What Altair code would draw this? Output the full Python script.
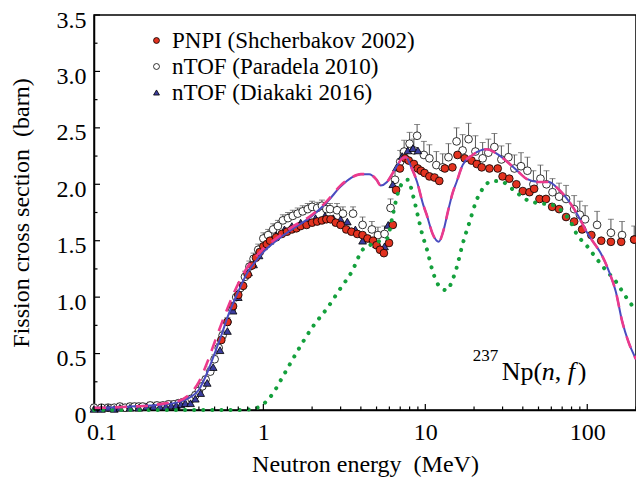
import altair as alt
import pandas as pd

# ---------------- data ----------------
# evaluation (solid blue)
eval_blue_E = [0.09, 0.1, 0.15, 0.2, 0.25, 0.3, 0.35, 0.4, 0.45, 0.5, 0.55, 0.6, 0.7, 0.8, 0.9, 1.0, 1.2, 1.5, 2.0, 2.5,
               3.0, 3.5, 4.0, 4.5, 5.0, 5.3, 5.8, 6.3, 6.8, 7.2, 7.6, 8.2, 8.9, 9.7, 10.2, 11.1, 12.1, 13.0, 13.8, 14.8,
               15.6, 17, 19.6, 24, 27, 32, 37, 42, 50, 58, 65, 77, 88, 99, 110, 120, 136, 150, 164, 180, 200]
eval_blue_v = [0.02, 0.02, 0.03, 0.04, 0.05, 0.07, 0.11, 0.18, 0.33, 0.5, 0.66, 0.82, 1.05, 1.22, 1.32, 1.4, 1.5, 1.6, 1.72, 1.85,
               1.98, 2.06, 2.09, 2.09, 2.04, 1.99, 2.02, 2.1, 2.18, 2.23, 2.24, 2.15, 2.02, 1.82, 1.73, 1.56, 1.49, 1.6, 1.76, 1.93,
               2.02, 2.17, 2.26, 2.31, 2.28, 2.2, 2.12, 2.05, 2.02, 2.02, 1.97, 1.85, 1.72, 1.58, 1.48, 1.4, 1.23, 1.05, 0.79, 0.6, 0.45]
# evaluation (dashed magenta)
eval_mag_E = [0.09, 0.1, 0.15, 0.2, 0.25, 0.3, 0.35, 0.4, 0.45, 0.5, 0.55, 0.6, 0.7, 0.8, 0.9, 1.0, 1.2, 1.5, 2.0, 2.5,
              3.0, 3.5, 4.0, 4.5, 5.0, 5.3, 5.8, 6.3, 6.8, 7.2, 7.6, 8.2, 8.9, 9.7, 10.2, 11.1, 12.1, 13.0, 13.8, 14.8,
              15.6, 17, 19.6, 24, 27, 32, 37, 42, 50, 58, 65, 77, 88, 99, 110, 120, 136, 150, 164, 180, 200]
eval_mag_v = [0.02, 0.02, 0.03, 0.04, 0.06, 0.08, 0.14, 0.25, 0.42, 0.6, 0.76, 0.9, 1.12, 1.27, 1.36, 1.43, 1.52, 1.62, 1.73, 1.86,
              1.99, 2.06, 2.09, 2.09, 2.04, 1.99, 2.02, 2.1, 2.18, 2.23, 2.24, 2.15, 2.02, 1.82, 1.73, 1.56, 1.49, 1.6, 1.76, 1.93,
              2.02, 2.17, 2.26, 2.31, 2.28, 2.2, 2.12, 2.05, 2.02, 2.02, 1.97, 1.85, 1.72, 1.58, 1.48, 1.4, 1.23, 1.05, 0.79, 0.6, 0.45]
# model (green dotted)
green_E = [0.09, 0.2, 0.4, 0.6, 0.75, 0.85, 0.95, 1.05, 1.15, 1.3, 1.45, 1.7, 2.0, 2.5, 3.0, 3.5, 4.1, 4.7, 5.3, 5.8,
           6.3, 6.8, 7.3, 7.8, 8.4, 9.0, 9.6, 10.2, 11, 11.7, 12.5, 13.6, 14.6, 15.6, 17, 18.8, 20.6, 22.6, 26, 30,
           35, 44, 52, 60, 70, 78, 86, 100, 113, 130, 150, 170, 200]
green_v = [0, 0, 0, 0, 0.0, 0.01, 0.03, 0.08, 0.15, 0.28, 0.4, 0.57, 0.73, 0.91, 1.08, 1.22, 1.42, 1.47, 1.5, 1.52,
           1.73, 1.93, 2.02, 2.04, 1.9, 1.72, 1.55, 1.43, 1.25, 1.14, 1.08, 1.06, 1.14, 1.26, 1.47, 1.67, 1.85, 1.96, 2.03, 2.02,
           1.95, 1.85, 1.83, 1.82, 1.76, 1.68, 1.56, 1.45, 1.35, 1.24, 1.14, 1.02, 0.88]

# PNPI (Shcherbakov 2002)
pnpi_E = [0.55, 0.6, 0.65, 0.7, 0.75, 0.8, 0.85, 0.9, 0.95, 1.0, 1.05, 1.1, 1.2, 1.3, 1.4, 1.5, 1.6, 1.7, 1.85, 2.0,
          2.15, 2.3, 2.45, 2.6, 2.8, 3.0, 3.25, 3.5, 3.8, 4.1, 4.4, 4.76, 5.0, 5.25, 5.55, 5.97, 6.3, 6.6, 6.97, 7.5,
          7.9, 8.5, 8.98, 9.4, 9.9, 10.6, 11.4, 12.2, 13.2, 14.7, 15.8, 17.5, 19.3, 20.8, 22.3, 24.9, 28, 30, 33, 36.5,
          40, 44, 47, 50.7, 55.6, 60.7, 67, 74, 83, 93, 106, 122, 140, 162, 195]
pnpi_v = [0.62, 0.78, 0.92, 1.02, 1.1, 1.2, 1.28, 1.35, 1.4, 1.45, 1.47, 1.5, 1.53, 1.56, 1.58, 1.6, 1.61, 1.63, 1.64, 1.66,
          1.67, 1.68, 1.69, 1.69, 1.66, 1.64, 1.6, 1.58, 1.56, 1.55, 1.52, 1.5, 1.46, 1.42, 1.39, 1.48, 1.64, 1.95, 2.14, 2.23,
          2.21, 2.18, 2.14, 2.12, 2.1, 2.07, 2.06, 2.03, 2.14, 2.15, 2.26, 2.23, 2.21, 2.18, 2.15, 2.14, 2.14, 2.07, 2.05, 2.0,
          1.94, 1.93, 1.96, 1.87, 1.87, 1.8, 1.78, 1.71, 1.67, 1.6, 1.55, 1.5, 1.49, 1.49, 1.51]

# nTOF (Paradela 2010)
par_E = [0.09, 0.1, 0.11, 0.12, 0.13, 0.14, 0.15, 0.16, 0.17, 0.18, 0.2, 0.22, 0.24, 0.26, 0.28, 0.3, 0.32, 0.34, 0.36, 0.38,
         0.4, 0.42, 0.44, 0.47, 0.5, 0.53, 0.56, 0.6, 0.64, 0.68, 0.72, 0.77, 0.82, 0.87, 0.93, 1.0, 1.07, 1.15, 1.23, 1.32,
         1.42, 1.52, 1.63, 1.75, 1.88, 2.0, 2.15, 2.3, 2.45, 2.58, 2.85, 3.1, 3.58, 4.1, 4.68, 5.1, 5.6, 6.1, 6.5, 7.0,
         7.4, 8.0, 8.5, 8.9, 9.8, 10.6, 11.7, 12.8, 13.9, 15.6, 17, 18.5, 20.4, 22.6, 24.5, 26.7, 29.5, 32.6, 35.5, 39,
         42.7, 46.5, 51.4, 56, 61, 67, 74, 83, 90, 97, 115, 140, 164, 195]
par_v = [0.02, 0.02, 0.02, 0.02, 0.03, 0.02, 0.03, 0.03, 0.03, 0.03, 0.04, 0.04, 0.04, 0.05, 0.05, 0.06, 0.07, 0.08, 0.1, 0.13,
         0.17, 0.21, 0.27, 0.34, 0.45, 0.55, 0.66, 0.78, 0.9, 1.0, 1.08, 1.18, 1.27, 1.34, 1.42, 1.52, 1.55, 1.6, 1.63, 1.68,
         1.7, 1.72, 1.74, 1.76, 1.78, 1.8, 1.79, 1.81, 1.78, 1.78, 1.77, 1.74, 1.74, 1.64, 1.6, 1.55, 1.56, 1.79, 2.04, 2.2,
         2.29, 2.36, 2.3, 2.43, 2.26, 2.23, 2.17, 2.15, 2.24, 2.38, 2.3, 2.4, 2.29, 2.23, 2.28, 2.33, 2.22, 2.24, 2.14, 2.16,
         2.12, 2.0, 2.05, 2.0, 1.93, 1.89, 1.87, 1.78, 1.73, 1.69, 1.64, 1.57, 1.55, 1.51]
par_err = [0.03, 0.03, 0.03, 0.03, 0.03, 0.03, 0.03, 0.03, 0.03, 0.03, 0.03, 0.03, 0.03, 0.03, 0.03, 0.03, 0.03, 0.03, 0.03, 0.03,
           0.03, 0.03, 0.03, 0.04, 0.04, 0.04, 0.04, 0.04, 0.04, 0.05, 0.05, 0.05, 0.05, 0.05, 0.05, 0.05, 0.05, 0.05, 0.05, 0.05,
           0.05, 0.05, 0.05, 0.05, 0.05, 0.05, 0.05, 0.05, 0.05, 0.05, 0.06, 0.06, 0.06, 0.07, 0.07, 0.07, 0.07, 0.08, 0.08, 0.1,
           0.1, 0.1, 0.1, 0.1, 0.12, 0.12, 0.12, 0.12, 0.12, 0.12, 0.14, 0.14, 0.14, 0.14, 0.12, 0.12, 0.12, 0.12, 0.12, 0.12,
           0.12, 0.12, 0.12, 0.12, 0.12, 0.12, 0.12, 0.12, 0.12, 0.12, 0.12, 0.12, 0.12, 0.12]

# nTOF (Diakaki 2016)
dia_E = [0.09, 0.1, 0.11, 0.12, 0.13, 0.15, 0.17, 0.19, 0.21, 0.23, 0.25, 0.27, 0.29, 0.31, 0.33, 0.355, 0.38, 0.41, 0.45, 0.49,
         0.54, 0.6, 0.65, 0.7, 0.75, 0.81, 0.87, 0.94, 1.0, 1.1, 1.2, 1.35, 1.5, 1.7, 1.9, 2.1, 2.4, 2.7, 3.0, 3.3,
         3.7, 4.1, 4.5, 5.0, 5.6, 5.9, 6.3, 6.65, 7.2, 7.8, 8.4, 9.0]
dia_v = [0.01, 0.01, 0.02, 0.01, 0.02, 0.02, 0.02, 0.03, 0.03, 0.03, 0.03, 0.04, 0.04, 0.05, 0.06, 0.06, 0.1, 0.15, 0.24, 0.38,
         0.53, 0.7, 0.88, 1.0, 1.12, 1.22, 1.29, 1.37, 1.45, 1.5, 1.55, 1.6, 1.63, 1.66, 1.68, 1.7, 1.72, 1.7, 1.69, 1.67,
         1.6, 1.5, 1.52, 1.47, 1.45, 1.64, 2.0, 2.15, 2.25, 2.3, 2.32, 2.3]

series_names = ["PNPI (Shcherbakov 2002)", "nTOF (Paradela 2010)", "nTOF (Diakaki 2016)"]
series_fill = ["#e2321f", "#ffffff", "#3b3d9e"]
series_shape = ["circle", "circle", "triangle-up"]

x_major = [0.1, 1, 10, 100]
x_minor = [0.09, 0.2, 0.3, 0.4, 0.5, 0.6, 0.7, 0.8, 0.9, 2, 3, 4, 5, 6, 7, 8, 9,
           20, 30, 40, 50, 60, 70, 80, 90, 200]
y_major = [0, 0.5, 1.0, 1.5, 2.0, 2.5, 3.0, 3.5]
y_minor = [0.25, 0.75, 1.25, 1.75, 2.25, 2.75, 3.25]

anno_E = 19.6
anno_v_base = 0.264
anno_v_sup = 0.43

W, H = 542, 395
FONT = "Liberation Serif, 'Times New Roman', Times, 'DejaVu Serif', serif"
FS = 24

# ---------------- frames ----------------
pts = pd.concat([
    pd.DataFrame({"E": par_E, "v": par_v, "s": series_names[1], "o": 0}),
    pd.DataFrame({"E": dia_E, "v": dia_v, "s": series_names[2], "o": 1}),
    pd.DataFrame({"E": pnpi_E, "v": pnpi_v, "s": series_names[0], "o": 2}),
], ignore_index=True)
par_df = pd.DataFrame({"E": par_E, "v": par_v, "top": [a + b for a, b in zip(par_v, par_err)]})

xs = alt.Scale(type="log", domain=[0.09, 200], nice=False)
ys = alt.Scale(domain=[0, 3.5], nice=False)

xaxis = alt.Axis(values=x_major, format="~g", ticks=False, grid=False, labelFontSize=FS, labelFont=FONT,
                 labelColor="black", labelPadding=10, title="Neutron energy\u00a0 (MeV)", titleFont=FONT,
                 titleFontSize=FS, titleFontWeight="normal", titleColor="black", titlePadding=8,
                 domainColor="black", domainWidth=1.5, labelFlush=False)
yaxis = alt.Axis(values=y_major, labelExpr="datum.value == 0 ? '0' : format(datum.value, '.1f')", ticks=False,
                 grid=False, labelFontSize=FS, labelFont=FONT, labelColor="black", labelPadding=8, labelOffset=5,
                 title="Fission cross section\u00a0 (barn)", titleFont=FONT, titleFontSize=FS,
                 titleFontWeight="normal", titleColor="black", titlePadding=23, domainColor="black",
                 domainWidth=1.5, labelFlush=False)

base_x = alt.X("E:Q", scale=xs, axis=xaxis)
base_y = alt.Y("v:Q", scale=ys, axis=yaxis)

err_rule = alt.Chart(par_df).mark_rule(color="#555555", strokeWidth=1).encode(
    x=alt.X("E:Q", scale=xs), y=alt.Y("v:Q", scale=ys), y2="top:Q")
err_cap = alt.Chart(par_df).mark_tick(color="#555555", thickness=1, size=6, orient="horizontal").encode(
    x=alt.X("E:Q", scale=xs), y=alt.Y("top:Q", scale=ys))

leg = alt.Legend(title=None, orient="none", legendX=51, legendY=14, labelFont=FONT,
                 labelFontSize=23, labelColor="black", symbolStrokeColor="black",
                 symbolStrokeWidth=0.8, symbolSize=35, rowPadding=2, labelOffset=4, labelLimit=400)

points = alt.Chart(pts).mark_point(filled=True, stroke="black", strokeWidth=0.8, size=60, opacity=1).encode(
    x=base_x, y=base_y,
    fill=alt.Fill("s:N", scale=alt.Scale(domain=series_names, range=series_fill), legend=leg),
    shape=alt.Shape("s:N", scale=alt.Scale(domain=series_names, range=series_shape)),
    order=alt.Order("o:Q"),
)

green = alt.Chart(pd.DataFrame({"E": green_E, "v": green_v})).mark_line(
    color="#14a03c", strokeWidth=4, strokeDash=[0.1, 9], strokeCap="round", interpolate="monotone").encode(
    x=alt.X("E:Q", scale=xs), y=alt.Y("v:Q", scale=ys))
blue = alt.Chart(pd.DataFrame({"E": eval_blue_E, "v": eval_blue_v})).mark_line(
    color="#4a4cc0", strokeWidth=2, interpolate="monotone").encode(
    x=alt.X("E:Q", scale=xs), y=alt.Y("v:Q", scale=ys))
mag = alt.Chart(pd.DataFrame({"E": eval_mag_E, "v": eval_mag_v})).mark_line(
    color="#ec3a8c", strokeWidth=2.6, strokeDash=[12, 9], interpolate="monotone").encode(
    x=alt.X("E:Q", scale=xs), y=alt.Y("v:Q", scale=ys))

# inward ticks
xt_maj = alt.Chart(pd.DataFrame({"E": x_major})).mark_rule(color="black", strokeWidth=1.2).encode(
    x=alt.X("E:Q", scale=xs), y=alt.value(H), y2=alt.value(H - 6))
xt_min = alt.Chart(pd.DataFrame({"E": x_minor})).mark_rule(color="black", strokeWidth=1.2).encode(
    x=alt.X("E:Q", scale=xs), y=alt.value(H), y2=alt.value(H - 3.5))
yt_maj = alt.Chart(pd.DataFrame({"v": y_major})).mark_rule(color="black", strokeWidth=1.2).encode(
    y=alt.Y("v:Q", scale=ys), x=alt.value(0), x2=alt.value(6))
yt_min = alt.Chart(pd.DataFrame({"v": y_minor})).mark_rule(color="black", strokeWidth=1.2).encode(
    y=alt.Y("v:Q", scale=ys), x=alt.value(0), x2=alt.value(3.5))

# annotation 237Np(n, f)
anno_df = pd.DataFrame({"E": [anno_E], "vb": [anno_v_base], "vs": [anno_v_sup]})
def piece(txt, dx, ycol, size=26, style="normal"):
    return alt.Chart(anno_df).mark_text(text=txt, align="left", baseline="alphabetic", dx=dx, font=FONT,
                                        fontSize=size, fontStyle=style, color="black").encode(
        x=alt.X("E:Q", scale=xs), y=alt.Y(f"{ycol}:Q", scale=ys))
anno = (piece("237", 0, "vs", 17) + piece("Np(", 29, "vb") + piece("n", 69, "vb", style="italic")
        + piece(",", 82, "vb") + piece("f", 95, "vb", style="italic") + piece(")", 105, "vb"))

chart = alt.layer(
    err_rule, err_cap, points, green, blue, mag, xt_maj, xt_min, yt_maj, yt_min, anno
).resolve_scale(fill="shared", shape="shared").properties(
    width=W, height=H,
    autosize=alt.AutoSizeParams(type="none"),
    padding={"left": 86, "top": 7, "right": 0, "bottom": 73},
    background="white",
).configure_view(stroke="black", strokeWidth=1.5).configure_legend(
    labelFont=FONT, labelFontSize=23, labelColor="black")

chart.save("out.html", embed_options={"renderer": "svg", "actions": False})
